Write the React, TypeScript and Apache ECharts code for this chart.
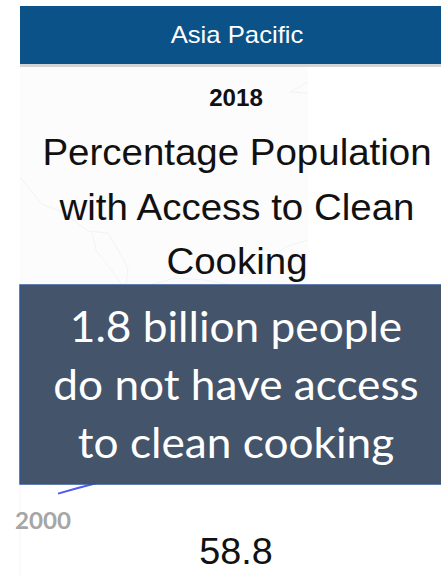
import React, { useEffect, useRef } from "react";
import * as echarts from "echarts";

const years = [2000, 2001, 2002, 2003, 2004, 2005, 2006, 2007, 2008, 2009, 2010, 2011, 2012, 2013, 2014, 2015, 2016, 2017, 2018];
const cleanCookingShare = [35.2, 36.4, 37.5, 38.6, 39.8, 41.0, 42.3, 43.5, 44.8, 46.0, 47.3, 48.6, 49.9, 51.2, 52.6, 54.0, 55.6, 57.2, 58.8];
const region = "Asia Pacific";
const latestYear = "2018";
const headline = "Percentage Population\nwith Access to Clean\nCooking";
const callout = "1.8 billion people\ndo not have access\nto clean cooking";
const firstYearLabel = "2000";
const latestValue = "58.8";

const SANS = "Liberation Sans, Arial, sans-serif";
const CALLOUT_FONT = "Lato, Open Sans, sans-serif";

// Faint outlines of the regional map behind the heading.
const coastlines: number[][][] = [
  [[20, 177], [32, 192], [42, 204], [62, 212], [88, 231], [108, 233], [118, 250], [128, 268], [126, 285]],
  [[92, 232], [96, 250], [110, 268], [122, 285]],
  [[243, 277], [262, 262], [288, 246], [308, 240]],
  [[308, 82], [290, 92], [308, 93]],
  [[150, 285], [175, 278], [205, 280], [232, 285]],
];

// Centred text, widened horizontally around its anchor.
const label = (text: string, x: number, y: number, font: string, fill: string, scaleX: number, z: number, lineHeight?: number) => ({
  type: "text",
  z,
  x,
  y,
  scaleX,
  style: { text, fill, font, align: "center", verticalAlign: "middle", ...(lineHeight ? { lineHeight } : {}) },
});

export default function App() {
  const ref = useRef<HTMLDivElement>(null);

  useEffect(() => {
    const chart = echarts.init(ref.current!, undefined, { renderer: "svg" });
    chart.setOption({
      animation: false,
      backgroundColor: "#ffffff",
      grid: { left: 58, right: 41, top: 202, bottom: 62 },
      xAxis: { type: "category", data: years, show: false, boundaryGap: false },
      yAxis: { type: "value", min: 30, max: 100, show: false },
      series: [
        {
          type: "line",
          data: cleanCookingShare,
          showSymbol: false,
          z: 3,
          lineStyle: { color: "#4f5bf0", width: 2 },
        },
      ],
      graphic: [
        { type: "rect", z: 0, shape: { x: 20, y: 66, width: 288, height: 219 }, style: { fill: "#fcfcfc" } },
        { type: "line", z: 0, shape: { x1: 20, y1: 484, x2: 20, y2: 577 }, style: { stroke: "#f6f6f6", lineWidth: 1 } },
        ...coastlines.map((points) => ({
          type: "polyline",
          z: 1,
          shape: { points },
          style: { stroke: "#f3f3f3", lineWidth: 1, fill: "none" },
        })),
        { type: "rect", z: 10, shape: { x: 20, y: 6, width: 421, height: 58 }, style: { fill: "#0b5289" } },
        { type: "rect", z: 10, shape: { x: 20, y: 64, width: 421, height: 3 }, style: { fill: "#d4d4d4" } },
        label(region, 237, 35, `24px ${SANS}`, "#ffffff", 1.07, 11),
        label(latestYear, 236, 98, `bold 23px ${SANS}`, "#111111", 1.05, 11),
        label(headline, 237, 207, `37px ${SANS}`, "#111111", 1.04, 11, 54.5),
        {
          type: "rect", z: 20,
          shape: { x: 20, y: 285, width: 430, height: 199 },
          style: { fill: "#44546a", stroke: "#2f5597", lineWidth: 1.5 },
        },
        label(callout, 236, 383, `42px ${CALLOUT_FONT}`, "#ffffff", 1.052, 21, 58),
        label(firstYearLabel, 43, 520, `bold 23px ${CALLOUT_FONT}`, "#a6a6a6", 1.05, 11),
        label(latestValue, 236, 551, `37px ${SANS}`, "#111111", 1.02, 11),
      ],
    });
    return () => chart.dispose();
  }, []);

  return <div ref={ref} style={{ position: "fixed", left: 0, top: 0, width: 441, height: 579 }} />;
}
